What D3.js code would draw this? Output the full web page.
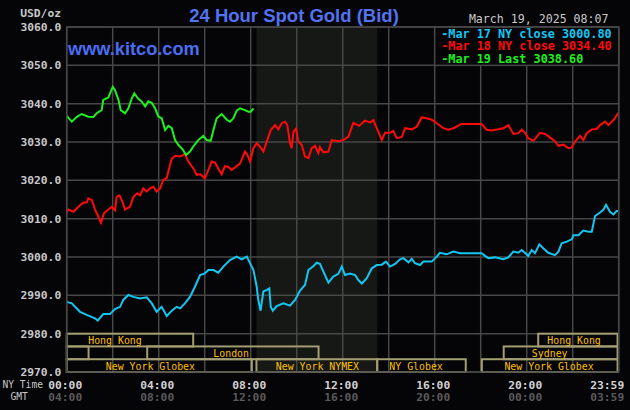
<!DOCTYPE html>
<html>
<head>
<meta charset="utf-8">
<script src="https://cdn.jsdelivr.net/npm/d3@7"></script>
<style>
  html, body { margin: 0; padding: 0; background: #050407; }
  svg { display: block; }
</style>
</head>
<body>
<div id="chart"></div>
<script>
// price ticks on the left axis
const yTicks = [2970, 2980, 2990, 3000, 3010, 3020, 3030, 3040, 3050, 3060];

// time labels under the chart
const labelHours = [0, 4, 8, 12, 16, 20, 24];
const nyLabels = ["00:00", "04:00", "08:00", "12:00", "16:00", "20:00", "23:59"];
const gmtLabels = ["04:00", "08:00", "12:00", "16:00", "20:00", "00:00", "03:59"];

// [hour of day (NY time), price]
const mar17 = [
  [0, 2988.3], [0.22, 2987.9], [0.58, 2985.7], [0.87, 2984.9], [1.23, 2984.0], [1.35, 2983.4], [1.59, 2985.1],
  [1.88, 2985.1], [2.10, 2986.4], [2.32, 2987.0], [2.46, 2988.8], [2.68, 2990.1], [2.90, 2989.6], [3.19, 2989.2],
  [3.48, 2989.5], [3.70, 2987.9], [3.91, 2985.7], [4.13, 2987.0], [4.35, 2984.6], [4.57, 2986.0], [4.78, 2987.0],
  [4.93, 2986.6], [5.14, 2987.9], [5.36, 2989.6], [5.58, 2992.3], [5.80, 2995.3], [6.01, 2995.7], [6.16, 2996.6],
  [6.38, 2996.6], [6.59, 2995.9], [6.81, 2997.5], [7.10, 2999.2], [7.39, 3000.1], [7.61, 2999.4], [7.83, 3000.1],
  [7.97, 2998.4], [8.12, 2996.6], [8.26, 2992.3], [8.33, 2988.8], [8.43, 2986.0], [8.55, 2991.0], [8.70, 2991.4],
  [8.81, 2991.8], [8.87, 2987.0], [8.96, 2986.0], [9.13, 2987.2], [9.42, 2987.9], [9.71, 2987.3], [9.93, 2988.8],
  [10.14, 2991.2], [10.36, 2992.7], [10.51, 2996.6], [10.72, 2997.6], [10.87, 2998.5], [11.01, 2998.2], [11.16, 2996.2],
  [11.38, 2993.3], [11.59, 2994.9], [11.81, 2995.6], [11.96, 2997.5], [12.10, 2995.3], [12.32, 2995.7], [12.54, 2995.3],
  [12.68, 2994.0], [12.83, 2993.1], [13.04, 2994.4], [13.26, 2997.0], [13.48, 2997.9], [13.70, 2998.0], [13.88, 2998.8],
  [14.06, 2997.5], [14.28, 2998.2], [14.49, 2999.4], [14.64, 2999.7], [14.86, 2998.6], [15.0, 2999.5], [15.14, 2998.4],
  [15.36, 2997.9], [15.51, 2998.8], [15.72, 2998.8], [15.87, 2998.8], [16.09, 3000.1], [16.23, 3001.1], [16.52, 3000.7],
  [16.81, 3001.4], [17.10, 3001.0], [18.04, 3001.0], [18.19, 3000.3], [18.33, 2999.7], [18.62, 2999.9], [18.99, 2999.4],
  [19.20, 2999.9], [19.42, 3001.4], [19.64, 3001.1], [19.78, 3001.8], [20.07, 3000.3], [20.22, 3001.8], [20.36, 3001.0],
  [20.55, 3003.3], [20.72, 3002.3], [20.94, 3001.1], [21.23, 3000.5], [21.38, 3001.4], [21.52, 3003.6], [21.74, 3004.0],
  [21.96, 3004.6], [22.03, 3005.7], [22.25, 3005.7], [22.46, 3006.9], [22.68, 3006.6], [22.83, 3006.6], [22.97, 3010.7],
  [23.19, 3011.6], [23.33, 3012.3], [23.45, 3013.6], [23.62, 3011.8], [23.77, 3011.1], [23.91, 3012.0], [23.98, 3012.0]
];

const mar18 = [
  [0, 3011.6], [0.07, 3012.4], [0.29, 3011.8], [0.51, 3013.1], [0.72, 3014.2], [0.87, 3014.2], [0.94, 3015.3],
  [1.09, 3014.9], [1.23, 3012.4], [1.38, 3010.5], [1.49, 3008.9], [1.62, 3011.4], [1.81, 3012.4], [1.96, 3013.1],
  [2.10, 3012.2], [2.17, 3015.7], [2.29, 3016.1], [2.39, 3014.9], [2.54, 3012.4], [2.75, 3013.1], [2.90, 3015.7],
  [3.07, 3016.6], [3.19, 3016.1], [3.33, 3017.9], [3.48, 3017.1], [3.62, 3017.9], [3.77, 3018.3], [3.91, 3017.1],
  [4.06, 3017.9], [4.20, 3020.1], [4.35, 3020.6], [4.49, 3024.0], [4.57, 3025.6], [4.71, 3026.4], [4.93, 3026.2],
  [5.14, 3026.9], [5.29, 3024.9], [5.51, 3023.1], [5.65, 3021.4], [5.80, 3021.6], [6.01, 3020.5], [6.16, 3022.7],
  [6.30, 3024.9], [6.45, 3024.6], [6.59, 3023.1], [6.74, 3021.6], [6.88, 3023.7], [7.03, 3023.5], [7.17, 3022.7],
  [7.39, 3023.7], [7.54, 3024.4], [7.75, 3027.5], [7.86, 3026.6], [7.97, 3024.9], [8.12, 3028.4], [8.26, 3029.7],
  [8.41, 3028.7], [8.55, 3027.5], [8.70, 3030.1], [8.87, 3033.1], [9.06, 3034.4], [9.20, 3033.3], [9.35, 3034.9],
  [9.49, 3035.3], [9.59, 3034.4], [9.71, 3029.7], [9.78, 3028.4], [9.86, 3032.7], [9.97, 3033.5], [10.07, 3030.1],
  [10.22, 3029.2], [10.36, 3026.2], [10.51, 3025.8], [10.65, 3028.4], [10.80, 3029.0], [10.94, 3027.1], [11.01, 3028.7],
  [11.16, 3027.3], [11.38, 3027.5], [11.52, 3030.5], [11.81, 3030.2], [12.03, 3030.5], [12.25, 3031.4], [12.46, 3035.0],
  [12.72, 3034.2], [12.97, 3035.6], [13.19, 3035.1], [13.33, 3035.7], [13.48, 3033.6], [13.70, 3030.5], [13.84, 3032.4],
  [14.06, 3032.4], [14.20, 3032.9], [14.35, 3031.0], [14.57, 3031.3], [14.71, 3033.6], [15.0, 3033.3], [15.22, 3034.0],
  [15.43, 3036.4], [15.65, 3036.2], [15.87, 3035.8], [16.09, 3034.9], [16.38, 3033.6], [16.59, 3033.2], [16.81, 3033.6],
  [17.17, 3034.7], [18.04, 3034.7], [18.26, 3033.2], [18.48, 3033.0], [18.77, 3033.3], [18.99, 3033.6], [19.20, 3034.4],
  [19.42, 3032.1], [19.64, 3032.3], [19.78, 3033.2], [19.93, 3032.4], [20.07, 3031.0], [20.29, 3030.3], [20.58, 3032.4],
  [20.80, 3032.1], [21.01, 3031.2], [21.23, 3030.2], [21.38, 3029.0], [21.59, 3029.3], [21.81, 3028.4], [21.96, 3028.6],
  [22.10, 3030.1], [22.32, 3031.6], [22.46, 3030.5], [22.61, 3032.3], [22.83, 3033.3], [23.04, 3033.4], [23.19, 3034.4],
  [23.41, 3035.3], [23.55, 3034.4], [23.77, 3035.7], [23.99, 3037.6]
];

const mar19 = [
  [0, 3036.8], [0.22, 3035.3], [0.43, 3036.5], [0.65, 3037.3], [0.94, 3036.6], [1.16, 3036.5], [1.30, 3037.5],
  [1.52, 3038.3], [1.59, 3041.0], [1.81, 3041.6], [2.0, 3044.4], [2.10, 3043.5], [2.25, 3041.0], [2.35, 3038.3],
  [2.54, 3037.5], [2.68, 3038.8], [2.83, 3041.4], [2.94, 3042.7], [3.12, 3041.2], [3.26, 3040.6], [3.41, 3039.3],
  [3.55, 3040.6], [3.70, 3040.2], [3.84, 3038.8], [3.99, 3036.6], [4.13, 3036.2], [4.28, 3033.1], [4.42, 3034.2],
  [4.57, 3033.6], [4.71, 3030.5], [4.86, 3029.2], [5.04, 3028.1], [5.19, 3026.6], [5.36, 3027.5], [5.51, 3028.9],
  [5.72, 3030.5], [5.94, 3031.6], [6.09, 3030.5], [6.26, 3030.3], [6.38, 3033.1], [6.52, 3036.2], [6.74, 3037.3],
  [6.96, 3035.8], [7.10, 3035.3], [7.25, 3036.2], [7.39, 3038.2], [7.54, 3038.8], [7.75, 3038.3], [7.90, 3037.9],
  [8.0, 3037.9], [8.12, 3038.8]
];

const seriesLabels = ["-Mar 17 NY close 3000.80", "-Mar 18 NY close 3034.40", "-Mar 19 Last 3038.60"];
const seriesColors = ["#12c8f2", "#ff0a0a", "#1ef01e"];

// market sessions: [label, start hour, end hour, row, label hour]
const sessions = [
  ["Hong Kong", 0, 5.5, 0, 2.1],
  ["", 0, 0.95, 1, 0],
  ["London", 3.5, 10.95, 1, 7.15],
  ["New York Globex", 0, 8.05, 2, 3.64],
  ["New York NYMEX", 8.25, 13.5, 2, 10.9],
  ["NY Globex", 13.5, 17.35, 2, 15.19],
  ["New York Globex", 18.05, 23.95, 2, 20.97],
  ["Sydney", 19, 23.95, 1, 21.0],
  ["Hong Kong", 20.5, 23.95, 0, 22.06]
];

// NYMEX trading hours are shaded
const nymexHours = [8.25, 13.5];

const margin = { top: 27, right: 11.3, bottom: 38, left: 66.7 },
    width = 630 - margin.left - margin.right,
    height = 410 - margin.top - margin.bottom;

const svg = d3.select("#chart")
    .append("svg")
    .attr("width", 630)
    .attr("height", 410)
    .style("background", "#050407");

const g = svg.append("g")
    .attr("transform", "translate(" + margin.left + "," + margin.top + ")");

const x = d3.scaleLinear().domain([0, 24]).range([0, width]);
const y = d3.scaleLinear().domain([2970, 3060]).range([height, 0]);

const mono = "'DejaVu Sans Mono', 'Liberation Mono', monospace";
const gridColor = "#474747";

// shaded NYMEX block
g.append("rect")
    .attr("x", x(nymexHours[0]))
    .attr("y", 0)
    .attr("width", x(nymexHours[1]) - x(nymexHours[0]))
    .attr("height", height)
    .attr("fill", "#151815");

// grid
g.selectAll(".hgrid")
    .data(yTicks)
    .enter()
    .append("line")
    .attr("x1", 0).attr("x2", width)
    .attr("y1", d => y(d)).attr("y2", d => y(d))
    .attr("stroke", gridColor)
    .attr("stroke-width", 1.5);

g.selectAll(".vgrid")
    .data(d3.range(0, 25, 2))
    .enter()
    .append("line")
    .attr("x1", d => x(d)).attr("x2", d => x(d))
    .attr("y1", 0).attr("y2", height)
    .attr("stroke", gridColor)
    .attr("stroke-width", 1.5);

// session boxes at the bottom (three rows between 2980 and 2970)
const rowH = y(2980 - 10 / 3) - y(2980);
g.selectAll(".session")
    .data(sessions)
    .enter()
    .append("rect")
    .attr("x", d => x(d[1]))
    .attr("y", d => y(2980) + d[3] * rowH)
    .attr("width", d => x(d[2]) - x(d[1]))
    .attr("height", rowH)
    .attr("fill", "none")
    .attr("stroke", "#a39e72")
    .attr("stroke-width", 2);

g.selectAll(".sessionLabel")
    .data(sessions.filter(d => d[0] !== ""))
    .enter()
    .append("text")
    .attr("x", d => x(d[4]))
    .attr("y", d => y(2980) + d[3] * rowH + rowH / 2 + 0.5)
    .attr("text-anchor", "middle")
    .attr("dominant-baseline", "central")
    .style("font-family", mono)
    .style("font-size", "9.9px")
    .attr("fill", "#ffc000")
    .text(d => d[0]);

// price lines
const line = d3.line()
    .x(d => x(d[0]))
    .y(d => y(d[1]));

[mar17, mar18, mar19].forEach((s, i) => {
    g.append("path")
        .datum(s)
        .attr("d", line)
        .attr("fill", "none")
        .attr("stroke", seriesColors[i])
        .attr("stroke-width", 2)
        .attr("stroke-linejoin", "miter");
});

// legend box in top right corner
g.append("rect")
    .attr("x", x(16))
    .attr("y", y(3060))
    .attr("width", x(24) - x(16))
    .attr("height", y(3050) - y(3060))
    .attr("fill", "#050407")
    .attr("stroke", gridColor)
    .attr("stroke-width", 1.5);

g.selectAll(".legendText")
    .data(seriesLabels)
    .enter()
    .append("text")
    .attr("x", x(16) + 6.5)
    .attr("y", (d, i) => 10.5 + i * 12.5)
    .style("font-family", mono)
    .style("font-size", "11.8px")
    .style("font-weight", "bold")
    .attr("fill", (d, i) => seriesColors[i])
    .text(d => d);

// plot border
g.append("rect")
    .attr("width", width)
    .attr("height", height)
    .attr("fill", "none")
    .attr("stroke", gridColor)
    .attr("stroke-width", 1.5);

// y axis labels
g.selectAll(".ylab")
    .data(yTicks)
    .enter()
    .append("text")
    .attr("x", -5.5)
    .attr("y", d => y(d))
    .attr("dy", "0.36em")
    .attr("text-anchor", "end")
    .style("font-family", mono)
    .style("font-size", "11.3px")
    .style("font-weight", "bold")
    .attr("fill", "#c8c8c8")
    .text(d => d.toFixed(1));

// x axis labels, NY time and GMT
g.selectAll(".nylab")
    .data(labelHours)
    .enter()
    .append("text")
    .attr("x", (d, i) => i === labelHours.length - 1 ? x(d) + 5.5 : x(d) - 1.5)
    .attr("y", height + 16.5)
    .attr("text-anchor", (d, i) => i === labelHours.length - 1 ? "end" : "middle")
    .style("font-family", mono)
    .style("font-size", "11.3px")
    .style("font-weight", "bold")
    .attr("fill", "#d2d2d2")
    .text((d, i) => nyLabels[i]);

g.selectAll(".gmtlab")
    .data(labelHours)
    .enter()
    .append("text")
    .attr("x", (d, i) => i === labelHours.length - 1 ? x(d) + 5.5 : x(d) - 1.5)
    .attr("y", height + 29)
    .attr("text-anchor", (d, i) => i === labelHours.length - 1 ? "end" : "middle")
    .style("font-family", mono)
    .style("font-size", "11.3px")
    .style("font-weight", "bold")
    .attr("fill", "#5a5a5a")
    .text((d, i) => gmtLabels[i]);

svg.append("text")
    .attr("x", 2.5).attr("y", 388)
    .style("font-family", mono)
    .style("font-size", "9.6px")
    .attr("fill", "#c8c8c8")
    .text("NY Time");

svg.append("text")
    .attr("x", 10.5).attr("y", 400)
    .style("font-family", mono)
    .style("font-size", "9.6px")
    .attr("fill", "#c8c8c8")
    .text("GMT");

// header texts
svg.append("text")
    .attr("x", 61).attr("y", 16.7)
    .attr("text-anchor", "end")
    .style("font-family", mono)
    .style("font-size", "11.3px")
    .style("font-weight", "bold")
    .attr("fill", "#c8c8c8")
    .text("USD/oz");

svg.append("text")
    .attr("x", 294).attr("y", 22)
    .attr("text-anchor", "middle")
    .style("font-family", "'Liberation Sans', Arial, sans-serif")
    .style("font-size", "18.5px")
    .style("font-weight", "bold")
    .attr("fill", "#5273f2")
    .text("24 Hour Spot Gold (Bid)");

svg.append("text")
    .attr("x", 68).attr("y", 55)
    .style("font-family", "'Liberation Sans', Arial, sans-serif")
    .style("font-size", "18.2px")
    .style("font-weight", "bold")
    .attr("fill", "#4a6ef2")
    .text("www.kitco.com");

svg.append("text")
    .attr("x", 608.5).attr("y", 22.7)
    .attr("text-anchor", "end")
    .style("font-family", mono)
    .style("font-size", "11.6px")
    .attr("fill", "#c8c8c8")
    .text("March 19, 2025 08:07");
</script>
</body>
</html>
